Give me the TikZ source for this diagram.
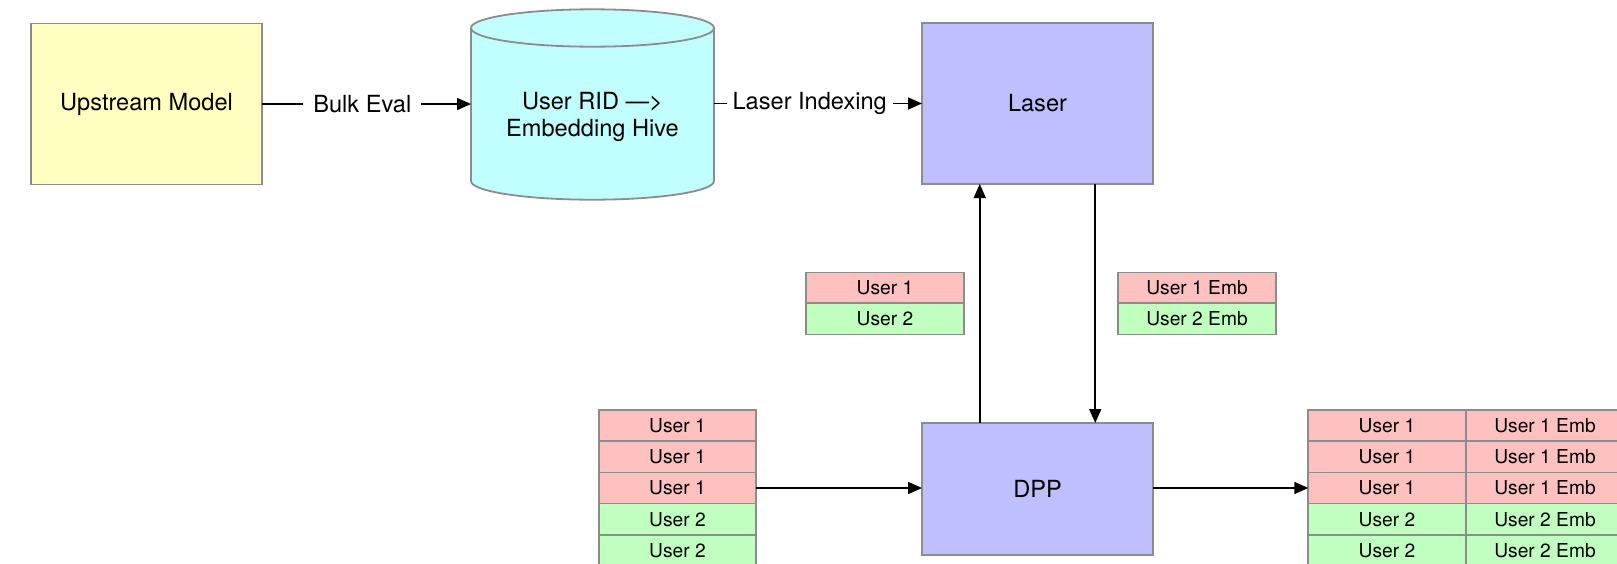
\documentclass[tikz,border=0pt]{standalone}
\usepackage{fontspec}
\setmainfont{TeX Gyre Heros}
\usetikzlibrary{arrows.meta,calc}

\definecolor{edgegray}{RGB}{140,140,140}
\definecolor{modelyellow}{RGB}{255,255,193}
\definecolor{hivecyan}{RGB}{193,255,255}
\definecolor{servicelav}{RGB}{191,191,255}
\definecolor{rowred}{RGB}{255,192,192}
\definecolor{rowgreen}{RGB}{192,255,192}

\begin{document}
\begin{tikzpicture}[x=0.5pt,y=0.5pt,
  mainfont/.style={font=\fontsize{11.8}{13.6}\selectfont},
  box/.style={draw=edgegray, line width=0.9pt, minimum width=115.5pt,
    inner sep=0pt, outer sep=0pt, mainfont},
  cell/.style={draw=edgegray, line width=0.8pt, minimum width=78.75pt,
    minimum height=15.6pt, inner sep=0pt, outer sep=0pt,
    font=\fontsize{9.6}{11}\selectfont},
  redcell/.style={cell, fill=rowred},
  greencell/.style={cell, fill=rowgreen},
  flow/.style={line width=0.8pt, -{Triangle[length=7pt,width=6pt]}},
  flowlabel/.style={fill=white, inner ysep=2pt, mainfont}
]
\useasboundingbox (0,0) rectangle (1617,-563);
\clip (0,0) rectangle (1617,-563);
\fill[white] (0,0) rectangle (1617,-563);

% --- top row: model, hive table, laser service
\node[box, fill=modelyellow, minimum height=80.5pt] (model) at (146.5,-104) {Upstream Model};

% hive drawn as a cylinder
\fill[hivecyan] (471,-28) -- (471,-181)
  arc[start angle=180, end angle=360, x radius=121.5, y radius=18.7]
  -- (714,-28)
  arc[start angle=0, end angle=180, x radius=121.5, y radius=18.7] -- cycle;
\draw[edgegray, line width=0.9pt] (471,-28) -- (471,-181)
  arc[start angle=180, end angle=360, x radius=121.5, y radius=18.7]
  -- (714,-28);
\draw[edgegray, line width=0.9pt] (592.5,-28) ellipse [x radius=121.5, y radius=18.7];
\node[minimum width=121.5pt, minimum height=95pt, inner sep=0pt, outer sep=0pt] (hive) at (592.5,-104) {};
\node[mainfont, align=center] (hivetext) at (592.5,-117) {User RID —>\\Embedding Hive};

\node[box, fill=servicelav, minimum height=80.5pt] (laser) at (1037.5,-103.5) {Laser};

\draw[flow] (model.east) -- node[flowlabel, pos=0.48, inner xsep=5pt] {Bulk Eval} (model.east -| hive.west);
\draw[flow] (hive.east |- laser.west) -- node[flowlabel, pos=0.46, inner xsep=3pt] {Laser Indexing} (laser.west);

% --- DPP service
\node[box, fill=servicelav, minimum height=66pt] (dpp) at (1037.5,-489) {DPP};

% --- request / response batches between DPP and Laser
\node[redcell]   (q1) at (885,-288)   {User 1};
\node[greencell] (q2) at (885,-318.8) {User 2};
\node[redcell]   (e1) at (1197,-288)   {User 1 Emb};
\node[greencell] (e2) at (1197,-318.8) {User 2 Emb};

\draw[flow] ($(dpp.north west)!0.25!(dpp.north east)$) -- ($(laser.south west)!0.25!(laser.south east)$);
\draw[flow] ($(laser.south west)!0.75!(laser.south east)$) -- ($(dpp.north west)!0.75!(dpp.north east)$);

% --- input user list
\node[redcell]   (l1) at (677.5,-425.6) {User 1};
\node[redcell]   (l2) at (677.5,-456.8) {User 1};
\node[redcell]   (l3) at (677.5,-488)   {User 1};
\node[greencell] (l4) at (677.5,-519.2) {User 2};
\node[greencell] (l5) at (677.5,-550.4) {User 2};

% --- output user / embedding table
\node[redcell]   (r1) at (1387,-425.6) {User 1};
\node[redcell]   (r2) at (1387,-456.8) {User 1};
\node[redcell]   (r3) at (1387,-488)   {User 1};
\node[greencell] (r4) at (1387,-519.2) {User 2};
\node[greencell] (r5) at (1387,-550.4) {User 2};
\node[redcell]   (s1) at (1545,-425.6) {User 1 Emb};
\node[redcell]   (s2) at (1545,-456.8) {User 1 Emb};
\node[redcell]   (s3) at (1545,-488)   {User 1 Emb};
\node[greencell] (s4) at (1545,-519.2) {User 2 Emb};
\node[greencell] (s5) at (1545,-550.4) {User 2 Emb};

\draw[flow] (l3.east) -- (l3.east -| dpp.west);
\draw[flow] (dpp.east |- r3.west) -- (r3.west);
\end{tikzpicture}
\end{document}
